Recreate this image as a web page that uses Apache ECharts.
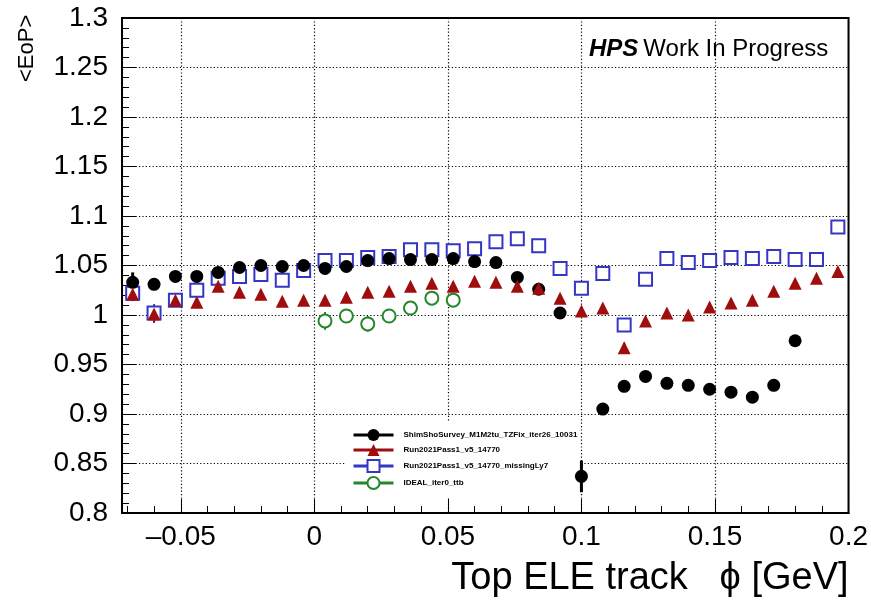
<!DOCTYPE html>
<html><head><meta charset="utf-8">
<script src="https://cdn.jsdelivr.net/npm/echarts@6/dist/echarts.min.js"></script>
<style>html,body{margin:0;padding:0;background:#fff}#c{width:871px;height:603px}</style>
</head><body><div id="c"></div>
<script>
// Bin centres (phi) shared by the series
const binX = [-0.068,-0.060,-0.052,-0.044,-0.036,-0.028,-0.020,-0.012,-0.004,0.004,0.012,0.020,0.028,0.036,0.044,0.052,0.060,0.068,0.076,0.084,0.092,0.100,0.108,0.116,0.124,0.132,0.140,0.148,0.156,0.164,0.172,0.180,0.188,0.196];

// ShimShoSurvey_M1M2tu_TZFix_iter26_10031 (first 32 bins)
const shimY = [1.033,1.031,1.039,1.039,1.043,1.048,1.050,1.049,1.050,1.047,1.049,1.055,1.057,1.056,1.056,1.057,1.054,1.053,1.038,1.026,1.002,0.837,0.905,0.928,0.938,0.931,0.929,0.925,0.922,0.917,0.929,0.974];
const shimErr = [0.010,0.004,0.004,0.004,0.004,0.004,0.004,0.004,0.004,0.004,0.004,0.004,0.004,0.004,0.004,0.004,0.004,0.004,0.004,0.004,0.004,0.016,0.005,0.005,0.005,0.005,0.005,0.005,0.005,0.005,0.005,0.005];

// Run2021Pass1_v5_14770
const runY = [1.021,1.001,1.015,1.013,1.029,1.023,1.021,1.014,1.015,1.015,1.018,1.023,1.024,1.029,1.032,1.029,1.034,1.033,1.029,1.027,1.017,1.004,1.007,0.967,0.994,1.002,1.000,1.008,1.012,1.015,1.024,1.032,1.037,1.044];
const runErr = [0.004,0.009,0.004,0.004,0.004,0.004,0.004,0.004,0.004,0.004,0.004,0.004,0.004,0.004,0.004,0.004,0.004,0.004,0.004,0.004,0.004,0.004,0.004,0.005,0.004,0.004,0.004,0.004,0.004,0.004,0.004,0.004,0.004,0.004];

// Run2021Pass1_v5_14770_missingLy7
const missY = [1.022,1.002,1.015,1.025,1.037,1.039,1.041,1.035,1.045,1.055,1.055,1.058,1.059,1.066,1.066,1.065,1.067,1.074,1.077,1.070,1.047,1.027,1.042,0.990,1.036,1.057,1.053,1.055,1.058,1.057,1.059,1.056,1.056,1.089];
const missErr = [0.008,0.009,0.004,0.004,0.004,0.004,0.004,0.004,0.004,0.004,0.004,0.004,0.004,0.004,0.004,0.004,0.004,0.004,0.004,0.004,0.004,0.004,0.004,0.005,0.004,0.004,0.004,0.004,0.004,0.004,0.004,0.004,0.004,0.004];

// IDEAL_iter0_ttb
const idealX = [0.004,0.012,0.020,0.028,0.036,0.044,0.052];
const idealY = [0.994,0.999,0.991,0.999,1.007,1.017,1.015];
const idealErr = [0.009,0.004,0.008,0.004,0.004,0.004,0.004];

const names = ['ShimShoSurvey_M1M2tu_TZFix_iter26_10031','Run2021Pass1_v5_14770','Run2021Pass1_v5_14770_missingLy7','IDEAL_iter0_ttb'];
const yTicks = ['0.8','0.85','0.9','0.95','1','1.05','1.1','1.15','1.2','1.25','1.3'];
const xTicks = ['–0.05','0','0.05','0.1','0.15','0.2'];

const FONT = '"Liberation Sans", Arial, Helvetica, sans-serif';
const BLACK = '#000000', RED = '#a00d0d', BLUE = '#3636c4', GREEN = '#24872a';

function pts(xs, ys) { return ys.map((y, i) => [xs[i], y]); }
function errSeries(xs, ys, es, color, w) {
  return {
    type: 'custom', silent: true, z: 3,
    data: ys.map((y, i) => [xs[i], y - es[i], y + es[i]]),
    encode: { x: 0, y: [1, 2] },
    renderItem: function (params, api) {
      const a = api.coord([api.value(0), api.value(1)]);
      const b = api.coord([api.value(0), api.value(2)]);
      return { type: 'line', shape: { x1: a[0], y1: a[1], x2: b[0], y2: b[1] }, style: { stroke: color, lineWidth: w } };
    }
  };
}
function fmtX(v) {
  const k = Math.round(v / 0.05);
  if (Math.abs(k * 0.05 - v) > 1e-6) return '';
  return xTicks[k + 1] !== undefined ? xTicks[k + 1] : '';
}
function fmtY(v) {
  const k = Math.round((v - 0.8) / 0.05);
  return yTicks[k] !== undefined ? yTicks[k] : '';
}

const chart = echarts.init(document.getElementById('c'), null, { renderer: 'canvas' });
chart.setOption({
  animation: false,
  backgroundColor: '#fff',
  title: {
    left: 584, top: 32,
    text: '{a|HPS} {b|Work In Progress}',
    textStyle: { rich: {
      a: { fontFamily: FONT, fontSize: 24, fontWeight: 'bold', fontStyle: 'italic', color: '#000' },
      b: { fontFamily: FONT, fontSize: 24, fontWeight: 'normal', color: '#000' }
    } }
  },
  legend: {
    orient: 'vertical', left: 345, top: 422, padding: [7, 2, 8, 7], z: 1,
    backgroundColor: '#fff',
    itemWidth: 40, itemHeight: 15, itemGap: 3,
    selectedMode: false,
    data: names,
    lineStyle: { width: 3 },
    textStyle: { fontFamily: FONT, fontSize: 8, fontWeight: 'bold', color: '#000', padding: [0, 0, 0, 5] }
  },
  grid: { left: 122, right: 20, top: 18, bottom: 90, show: true, borderColor: '#000', borderWidth: 2, backgroundColor: 'transparent' },
  xAxis: {
    type: 'value', min: -0.072, max: 0.2, splitNumber: 5,
    axisLine: { show: true, onZero: false, lineStyle: { color: '#000', width: 2 } },
    axisTick: { show: true, inside: true, length: 14, lineStyle: { color: '#000', width: 1 } },
    minorTick: { show: true, splitNumber: 5, length: 7, lineStyle: { color: '#000', width: 1 } },
    splitLine: { show: true, lineStyle: { color: '#000', width: 1.2, type: [1.2, 2.2] } },
    axisLabel: { color: '#000', fontFamily: FONT, fontSize: 28, margin: 10, formatter: fmtX },
    name: 'Top ELE track   ϕ [GeV]', nameLocation: 'end', nameGap: 0,
    nameTextStyle: { fontFamily: FONT, fontSize: 38, color: '#000', align: 'right', verticalAlign: 'top', padding: [47, 0, 0, 0] }
  },
  yAxis: {
    type: 'value', min: 0.8, max: 1.3, interval: 0.05,
    axisLine: { show: true, onZero: false, lineStyle: { color: '#000', width: 2 } },
    axisTick: { show: true, inside: true, length: 14, lineStyle: { color: '#000', width: 1 } },
    minorTick: { show: true, splitNumber: 5, length: 7, lineStyle: { color: '#000', width: 1 } },
    splitLine: { show: true, lineStyle: { color: '#000', width: 1.2, type: [1.2, 2.2] } },
    axisLabel: { color: '#000', fontFamily: FONT, fontSize: 28, margin: 14, formatter: fmtY },
    name: '<EoP>', nameLocation: 'end', nameRotate: 90, nameGap: -64,
    nameTextStyle: { fontFamily: FONT, fontSize: 22, color: '#000', align: 'left', verticalAlign: 'bottom', padding: [0, 0, 84, 0] }
  },
  series: [
    errSeries(binX, missY, missErr, BLUE, 2),
    { name: names[2], type: 'line', z: 3, data: pts(binX, missY), symbol: 'emptyRect', symbolSize: 13, showAllSymbol: true,
      lineStyle: { width: 0 }, itemStyle: { color: BLUE, borderWidth: 1.6 } },
    errSeries(binX, shimY, shimErr, BLACK, 3),
    { name: names[0], type: 'line', z: 3, data: pts(binX, shimY), symbol: 'circle', symbolSize: 13, showAllSymbol: true,
      lineStyle: { width: 0 }, itemStyle: { color: BLACK } },
    errSeries(binX, runY, runErr, RED, 2),
    { name: names[1], type: 'line', z: 3, data: pts(binX, runY), symbol: 'triangle', symbolSize: 13, showAllSymbol: true,
      lineStyle: { width: 0 }, itemStyle: { color: RED } },
    errSeries(idealX, idealY, idealErr, GREEN, 2),
    { name: names[3], type: 'line', z: 3, data: pts(idealX, idealY), symbol: 'emptyCircle', symbolSize: 13, showAllSymbol: true,
      lineStyle: { width: 0 }, itemStyle: { color: GREEN, borderWidth: 1.6 } }
  ]
});
</script>
</body></html>
